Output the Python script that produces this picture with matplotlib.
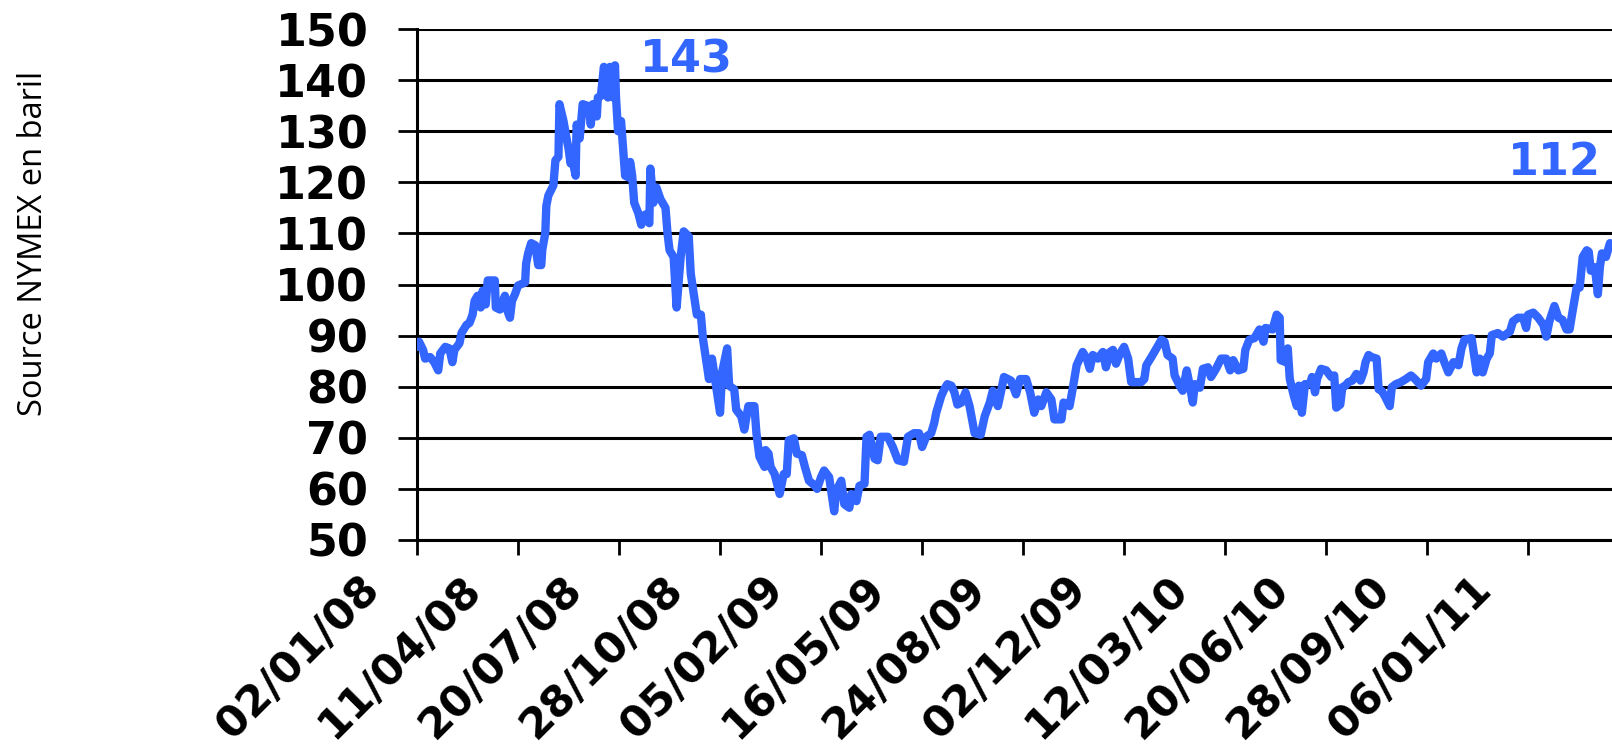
import pandas as pd
import matplotlib
matplotlib.use('Agg')
import matplotlib.pyplot as plt
import matplotlib.dates as mdates
from matplotlib.transforms import ScaledTranslation

# jours depuis le 02/01/08 et prix du baril
jours = [0, 2, 6, 8, 13, 17, 21, 23, 28, 32, 35, 37, 42, 44, 49, 52, 55, 57, 60, 63,
         65, 68, 70, 77, 78, 82, 87, 89, 92, 94, 97, 100, 107, 108, 110, 113, 117, 120, 123, 124,
         127, 128, 130, 135, 137, 140, 141, 145, 148, 150, 152, 153, 157, 158, 161, 164, 170, 172, 174, 178,
         179, 182, 185, 189, 191, 194, 196, 197, 199, 202, 204, 206, 209, 211, 213, 215, 219, 222, 226, 230,
         231, 234, 237, 241, 246, 248, 250, 254, 257, 261, 264, 269, 271, 274, 277, 281, 283, 286, 289, 292,
         297, 300, 302, 307, 309, 314, 316, 321, 324, 328, 334, 336, 339, 344, 345, 348, 350, 354, 359, 363,
         366, 368, 373, 376, 381, 384, 388, 394, 396, 400, 403, 408, 413, 415, 420, 423, 428, 430, 435, 438,
         443, 445, 448, 453, 456, 459, 466, 471, 476, 482, 486, 492, 497, 500, 504, 509, 512, 514, 517, 519,
         522, 525, 529, 532, 535, 539, 543, 547, 552, 558, 562, 567, 570, 575, 578, 581, 588, 593, 597, 603,
         607, 611, 615, 618, 623, 628, 631, 638, 640, 646, 649, 653, 659, 663, 666, 669, 674, 679, 682, 686,
         689, 692, 696, 700, 704, 707, 712, 717, 720, 722, 727, 734, 737, 740, 743, 748, 750, 755, 758, 762,
         765, 768, 770, 775, 778, 783, 786, 791, 796, 801, 805, 808, 813, 818, 820, 824, 829, 834, 838, 840,
         847, 851, 854, 855, 860, 862, 864, 868, 871, 873, 876, 879, 884, 886, 889, 891, 895, 900, 905, 908,
         910, 914, 916, 919, 922, 926, 930, 934, 937, 939, 942, 945, 950, 952, 955, 958, 963, 965, 969, 974,
         979, 984, 988, 994, 999, 1001, 1006, 1009, 1014, 1017, 1021, 1026, 1031, 1034, 1037, 1044, 1046, 1049, 1052, 1055,
         1059, 1062, 1064, 1070, 1075, 1082, 1085, 1090, 1095, 1098, 1100, 1105, 1110, 1115, 1118, 1121, 1126, 1130, 1134, 1138,
         1141, 1144, 1148, 1151, 1154, 1158, 1160, 1162, 1166, 1169, 1171, 1173, 1177, 1181]
prixBaril = [87.8, 88.8, 87.2, 85.5, 85.8, 84.8, 83.2, 86.5, 87.8, 87.5, 84.8, 87.2, 88.5, 90.5, 92.1, 92.5, 94.1, 96.8, 97.8, 95.5,
             98.8, 96.1, 100.8, 100.8, 95.5, 95.1, 97.8, 95.1, 93.5, 96.8, 98.1, 99.8, 100.4, 104.1, 106.1, 108.1, 107.7, 103.8, 103.8, 106.8,
             110.1, 115.4, 117.4, 119.4, 124.3, 125.0, 135.3, 132.0, 128.6, 126.6, 123.7, 125.3, 121.3, 131.3, 128.6, 135.3, 134.9, 131.3, 135.3, 132.9,
             136.6, 136.9, 142.6, 136.6, 142.6, 136.6, 142.9, 136.6, 130.0, 132.0, 126.6, 121.3, 121.0, 124.0, 121.3, 116.0, 114.0, 111.7, 113.7, 112.0,
             122.7, 116.0, 119.0, 116.7, 115.0, 110.0, 106.7, 105.4, 95.5, 105.4, 110.4, 109.4, 102.1, 98.1, 94.1, 94.1, 89.5, 85.5, 81.5, 85.5,
             78.9, 74.9, 82.8, 87.5, 80.2, 79.5, 75.5, 74.2, 71.6, 76.2, 76.2, 70.9, 66.3, 64.3, 67.6, 66.9, 64.3, 62.9, 59.0, 62.9,
             62.9, 69.5, 69.9, 66.9, 66.6, 64.3, 61.6, 60.6, 60.0, 62.3, 63.6, 62.3, 55.6, 59.6, 61.6, 57.0, 56.3, 59.0, 57.6, 60.6,
             61.0, 70.2, 70.6, 65.9, 65.6, 70.2, 70.2, 68.2, 65.6, 65.3, 70.2, 70.9, 70.9, 68.2, 70.2, 70.9, 72.9, 74.9, 76.9, 78.2,
             79.5, 80.5, 80.2, 78.9, 76.5, 76.9, 78.9, 76.2, 70.9, 70.6, 74.2, 76.9, 79.2, 76.2, 78.9, 81.9, 81.2, 78.5, 81.5, 81.5,
             78.9, 74.9, 77.5, 76.2, 78.9, 77.5, 73.6, 73.6, 76.9, 76.2, 79.5, 84.2, 86.8, 85.5, 83.5, 86.2, 85.5, 86.8, 83.8, 86.8,
             87.2, 84.5, 86.5, 87.8, 85.5, 80.9, 80.9, 80.9, 81.5, 84.2, 85.8, 88.2, 89.2, 88.8, 86.2, 85.5, 82.2, 80.2, 79.2, 83.2,
             80.2, 76.9, 80.5, 79.8, 83.5, 83.8, 81.9, 83.5, 85.5, 85.5, 83.2, 85.2, 83.2, 83.5, 87.2, 89.2, 89.5, 91.2, 88.8, 91.5,
             91.2, 94.1, 93.5, 85.2, 84.8, 87.5, 81.5, 78.2, 76.2, 80.2, 74.9, 80.5, 80.5, 81.9, 78.9, 81.5, 83.5, 83.2, 81.9, 82.2,
             75.9, 76.5, 79.9, 80.2, 80.9, 81.2, 82.5, 81.2, 82.8, 84.8, 86.2, 85.8, 85.5, 79.5, 79.2, 78.2, 76.2, 79.9, 80.5, 80.9,
             81.5, 82.2, 81.5, 80.2, 81.5, 84.8, 86.5, 85.5, 86.5, 84.8, 82.8, 84.8, 84.2, 87.5, 89.2, 89.5, 86.8, 82.8, 85.5, 82.8,
             85.5, 86.5, 90.1, 90.5, 89.8, 90.8, 92.8, 93.5, 93.5, 91.5, 94.1, 94.5, 93.5, 92.1, 89.8, 92.8, 95.8, 93.5, 93.1, 91.2,
             91.2, 94.8, 99.4, 99.4, 105.4, 106.7, 106.4, 102.7, 103.4, 98.1, 103.4, 106.1, 105.4, 108.1]

debut = pd.Timestamp('2008-01-02')
datesTicks = [debut + pd.Timedelta(days=100 * k) for k in range(12)]
niveauxY = [50, 60, 70, 80, 90, 100, 110, 120, 130, 140, 150]

dates = debut + pd.to_timedelta(jours, unit='D')
serie = pd.Series(prixBaril, index=dates)

bleu = '#3366FF'
taille = 32
fig = plt.figure(figsize=(16.12, 7.45), dpi=100)
ax = fig.add_axes([0.2587, 0.2752, 0.7413, 0.6858])

ax.plot(serie.index, serie.values, color=bleu, linewidth=6, solid_joinstyle='round', solid_capstyle='round', zorder=3)

ax.set_ylim(50, 150)
ax.set_xlim(debut, debut + pd.Timedelta(days=1183))
ax.set_yticks(niveauxY)
ax.set_xticks(datesTicks)
ax.xaxis.set_major_formatter(mdates.DateFormatter('%d/%m/%y'))

ax.grid(True, axis='y', color='black', linewidth=2.2)
ax.set_axisbelow(True)
for s in ['top', 'right']:
    ax.spines[s].set_visible(False)
for s in ['left', 'bottom']:
    ax.spines[s].set_linewidth(2.2)
    ax.spines[s].set_color('black')

ax.tick_params(axis='y', direction='out', length=14, width=2, pad=21)
ax.tick_params(axis='x', direction='out', length=11, width=2, pad=8)
for lab in ax.get_yticklabels():
    lab.set_fontfamily('DejaVu Sans')
    lab.set_fontweight('bold')
    lab.set_fontsize(taille)
decalage = ScaledTranslation(-0.29, -0.01, fig.dpi_scale_trans)
for lab in ax.get_xticklabels():
    lab.set_fontfamily('DejaVu Sans')
    lab.set_fontweight('bold')
    lab.set_fontsize(31)
    lab.set_rotation(45)
    lab.set_ha('right')
    lab.set_transform(lab.get_transform() + decalage)

ax.text(debut + pd.Timedelta(days=267), 144.0, '143', color=bleu, fontsize=taille,
        fontweight='bold', ha='center', va='center')
ax.text(debut + pd.Timedelta(days=1126), 123.8, '112', color=bleu, fontsize=taille,
        fontweight='bold', ha='center', va='center')

fig.text(34 / 1612, 1 - 243 / 745, 'Source NYMEX en baril', rotation=90, fontsize=23.5,
         fontfamily='Open Sans', ha='center', va='center')

plt.savefig('out.png', dpi=100)
